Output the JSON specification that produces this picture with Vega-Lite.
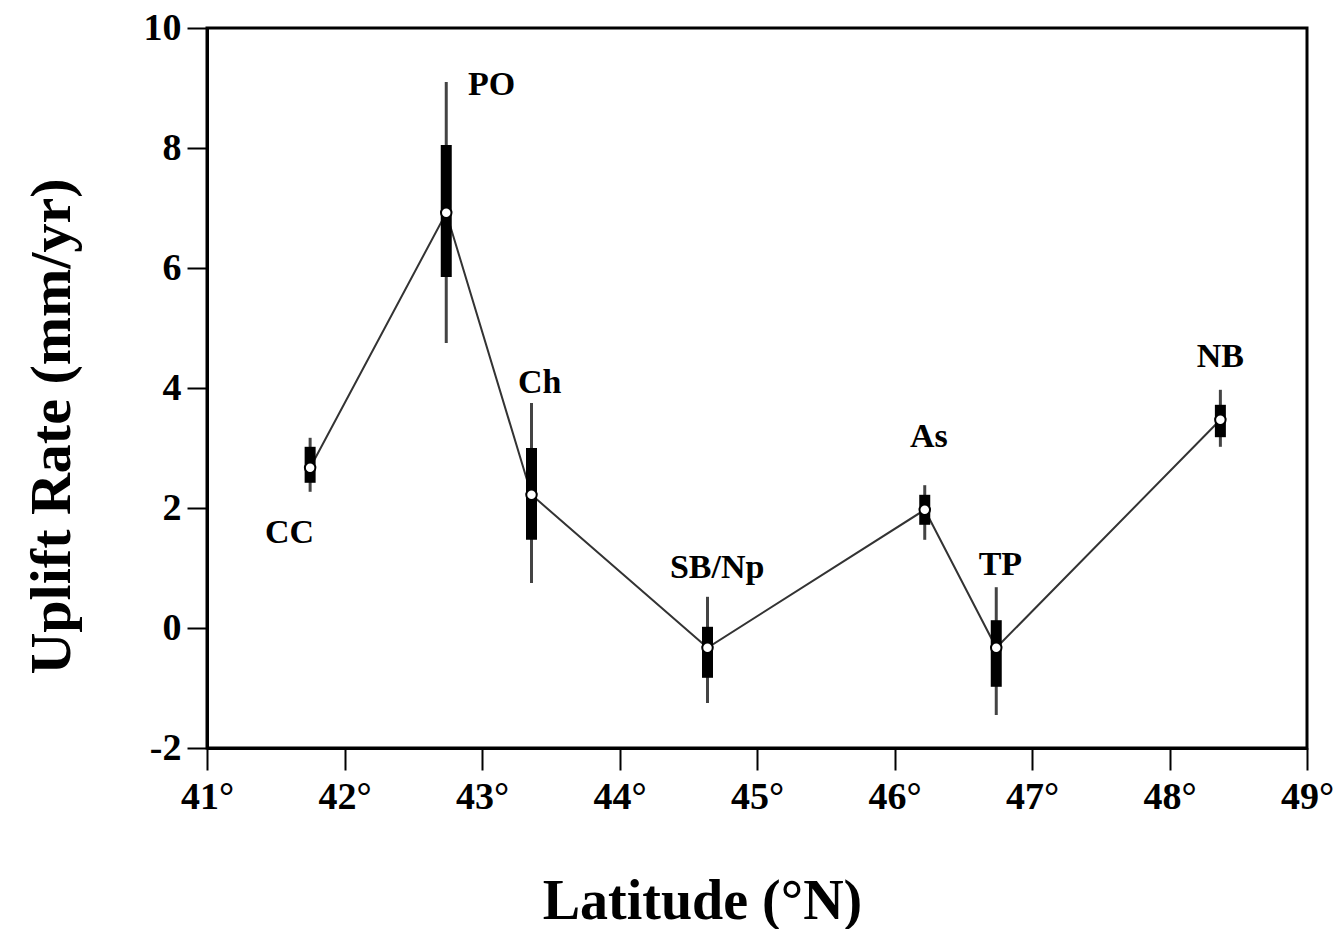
{
  "$schema": "https://vega.github.io/schema/vega-lite/v6.json",
  "width": 1100,
  "height": 720,
  "autosize": "none",
  "padding": {"left": 207, "top": 28, "right": 36, "bottom": 181},
  "background": "white",
  "config": {
    "view": {"stroke": "black", "strokeWidth": 3},
    "axis": {
      "grid": false,
      "domainColor": "black",
      "domainWidth": 3,
      "tickColor": "black",
      "tickWidth": 2,
      "labelFont": "Liberation Serif",
      "labelFontWeight": "bold",
      "labelColor": "black",
      "labelFontSize": 38,
      "labelFlush": false,
      "titleFont": "Liberation Serif",
      "titleFontWeight": "bold",
      "titleColor": "black",
      "titleFontSize": 58
    }
  },
  "data": {
    "values": [
      {"site": "CC", "lat": 41.75, "rate": 2.67, "thinLo": 2.27, "thinHi": 3.17, "thickLo": 2.42, "thickHi": 3.02, "labelLat": 41.6, "labelRate": 1.58},
      {"site": "PO", "lat": 42.74, "rate": 6.92, "thinLo": 4.75, "thinHi": 9.1, "thickLo": 5.85, "thickHi": 8.05, "labelLat": 43.07, "labelRate": 9.05},
      {"site": "Ch", "lat": 43.36, "rate": 2.22, "thinLo": 0.75, "thinHi": 3.75, "thickLo": 1.47, "thickHi": 3.0, "labelLat": 43.42, "labelRate": 4.08},
      {"site": "SB/Np", "lat": 44.64, "rate": -0.33, "thinLo": -1.25, "thinHi": 0.52, "thickLo": -0.83, "thickHi": 0.02, "labelLat": 44.71, "labelRate": 1.0},
      {"site": "As", "lat": 46.22, "rate": 1.97, "thinLo": 1.47, "thinHi": 2.38, "thickLo": 1.72, "thickHi": 2.22, "labelLat": 46.25, "labelRate": 3.18},
      {"site": "TP", "lat": 46.74, "rate": -0.33, "thinLo": -1.45, "thinHi": 0.68, "thickLo": -0.98, "thickHi": 0.13, "labelLat": 46.77, "labelRate": 1.05},
      {"site": "NB", "lat": 48.37, "rate": 3.47, "thinLo": 3.02, "thinHi": 3.97, "thickLo": 3.18, "thickHi": 3.72, "labelLat": 48.37, "labelRate": 4.52}
    ]
  },
  "encoding": {
    "x": {
      "field": "lat", "type": "quantitative",
      "scale": {"domain": [41, 49], "nice": false, "zero": false},
      "axis": {
        "title": "Latitude (°N)",
        "values": [41, 42, 43, 44, 45, 46, 47, 48, 49],
        "labelExpr": "datum.value + '°'",
        "tickSize": 22,
        "labelPadding": 8,
        "titlePadding": 58,
        "titleFontSize": 56,
        "titleX": 495
      }
    }
  },
  "layer": [
    {
      "mark": {"type": "line", "color": "#333", "strokeWidth": 2},
      "encoding": {
        "y": {
          "field": "rate", "type": "quantitative",
          "scale": {"domain": [-2, 10], "nice": false, "zero": false},
          "axis": {
            "title": "Uplift Rate (mm/yr)",
            "values": [-2, 0, 2, 4, 6, 8, 10],
            "labelExpr": "'' + datum.value",
            "tickSize": 20,
            "labelPadding": 6,
            "titlePadding": 62,
            "titleFontSize": 58,
            "titleY": 398
          }
        },
        "order": {"field": "lat"}
      }
    },
    {
      "mark": {"type": "rule", "color": "#444", "strokeWidth": 3},
      "encoding": {
        "y": {"field": "thinLo", "type": "quantitative"},
        "y2": {"field": "thinHi"}
      }
    },
    {
      "mark": {"type": "rule", "color": "black", "strokeWidth": 11, "strokeCap": "butt"},
      "encoding": {
        "y": {"field": "thickLo", "type": "quantitative"},
        "y2": {"field": "thickHi"}
      }
    },
    {
      "mark": {"type": "point", "shape": "circle", "filled": true, "fill": "white", "stroke": "black", "strokeWidth": 2, "size": 110, "opacity": 1},
      "encoding": {
        "y": {"field": "rate", "type": "quantitative"}
      }
    },
    {
      "mark": {"type": "text", "font": "Liberation Serif", "fontWeight": "bold", "fontSize": 34, "color": "black", "align": "center", "baseline": "middle"},
      "encoding": {
        "x": {"field": "labelLat", "type": "quantitative"},
        "y": {"field": "labelRate", "type": "quantitative"},
        "text": {"field": "site"}
      }
    }
  ]
}
